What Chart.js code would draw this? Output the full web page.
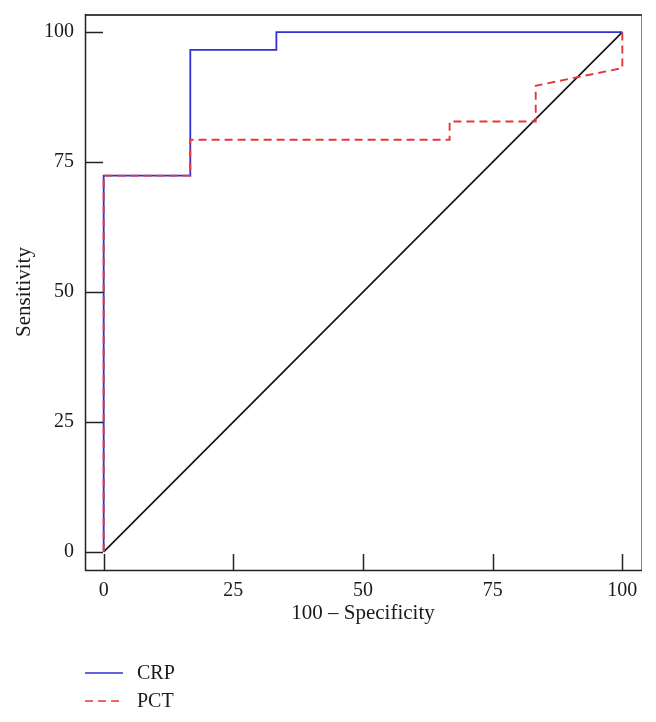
<!DOCTYPE html>
<html>
<head>
<meta charset="utf-8">
<script src="https://cdn.jsdelivr.net/npm/chart.js@4.4.1/dist/chart.umd.min.js"></script>
<style>
  html, body { margin: 0; padding: 0; background: #fff; }
  #roc { display: block; }
</style>
</head>
<body>
<canvas id="roc" width="656" height="722"></canvas>
<script>
// ── Data ───────────────────────────────────────────────
const TICKS = [0, 25, 50, 75, 100];

const CRP_X = [0, 0, 16.7, 16.7, 33.3, 33.3, 100];
const CRP_Y = [0, 72.4, 72.4, 96.6, 96.6, 100, 100];

const PCT_X = [0, 0, 16.7, 16.7, 66.7, 66.7, 83.3, 83.3, 100, 100];
const PCT_Y = [0, 72.4, 72.4, 79.3, 79.3, 82.8, 82.8, 89.7, 93.1, 100];

const REF_X = [0, 100];
const REF_Y = [0, 100];

const COLORS = {
  crp:  '#3030d4',
  pct:  '#e83636',
  ref:  '#111111',
  text: '#1a1a1a',
};

const FONT = { family: '"Liberation Serif", "Times New Roman", serif', size: 20 };
const TITLE_FONT = { ...FONT, size: 21 };

const toPoints = (xs, ys) => xs.map((x, i) => ({ x, y: ys[i] }));

// ── Box, inward ticks and bottom legend ───────────────
const frame = {
  id: 'frame',
  afterDatasetsDraw(chart) {
    const { ctx, chartArea: a, scales: { x, y } } = chart;
    ctx.save();
    ctx.lineCap = 'butt';
    // inward tick marks
    ctx.strokeStyle = '#222';
    ctx.lineWidth = 1.5;
    TICKS.forEach(v => {
      const py = Math.round(y.getPixelForValue(v)) + 0.5;
      ctx.beginPath(); ctx.moveTo(a.left, py); ctx.lineTo(a.left + 18, py); ctx.stroke();
      const px = Math.round(x.getPixelForValue(v)) + 0.5;
      ctx.beginPath(); ctx.moveTo(px, a.bottom); ctx.lineTo(px, a.bottom - 16); ctx.stroke();
    });
    // frame
    ctx.strokeStyle = '#888';
    ctx.lineWidth = 1;
    ctx.beginPath(); ctx.moveTo(a.right + 0.5, a.top); ctx.lineTo(a.right + 0.5, a.bottom); ctx.stroke();
    ctx.strokeStyle = '#444';
    ctx.lineWidth = 2;
    ctx.beginPath(); ctx.moveTo(a.left, a.top + 1); ctx.lineTo(a.right + 1, a.top + 1); ctx.stroke();
    ctx.strokeStyle = '#222';
    ctx.lineWidth = 1.5;
    ctx.beginPath(); ctx.moveTo(a.left + 0.5, a.top); ctx.lineTo(a.left + 0.5, a.bottom + 1); ctx.stroke();
    ctx.beginPath(); ctx.moveTo(a.left, a.bottom + 0.5); ctx.lineTo(a.right + 1, a.bottom + 0.5); ctx.stroke();

    // legend (CRP, PCT stacked under the plot)
    const items = chart.data.datasets.filter(d => d.inLegend)
      .sort((p, q) => p.legendIndex - q.legendIndex);
    ctx.font = `${FONT.size}px ${FONT.family}`;
    ctx.textBaseline = 'middle';
    ctx.fillStyle = COLORS.text;
    items.forEach((d, i) => {
      const ly = 673 + i * 28;
      ctx.strokeStyle = d.borderColor;
      ctx.lineWidth = 1.5;
      ctx.setLineDash(d.borderDash || []);
      ctx.beginPath(); ctx.moveTo(a.left, ly); ctx.lineTo(a.left + 38, ly); ctx.stroke();
      ctx.setLineDash([]);
      ctx.fillText(d.label, a.left + 52, ly + 1);
    });
    ctx.restore();
  },
};

const axisBase = (min, max) => ({
  type: 'linear',
  min, max,
  afterBuildTicks: s => { s.ticks = TICKS.map(v => ({ value: v })); },
  grid: { display: false, drawTicks: false },
  border: { display: false },
});

// datasets listed top-most first (PCT dashes sit over CRP)
new Chart(document.getElementById('roc'), {
  type: 'scatter',
  data: {
    datasets: [
      {
        label: 'PCT', inLegend: true, legendIndex: 1,
        data: toPoints(PCT_X, PCT_Y),
        borderColor: COLORS.pct, borderWidth: 1.9, borderDash: [8, 5],
        showLine: true, pointRadius: 0, tension: 0,
      },
      {
        label: 'CRP', inLegend: true, legendIndex: 0,
        data: toPoints(CRP_X, CRP_Y),
        borderColor: COLORS.crp, borderWidth: 1.8,
        showLine: true, pointRadius: 0, tension: 0,
      },
      {
        label: 'Reference',
        data: toPoints(REF_X, REF_Y),
        borderColor: COLORS.ref, borderWidth: 1.6,
        showLine: true, pointRadius: 0, tension: 0,
      },
    ],
  },
  options: {
    responsive: false,
    animation: false,
    layout: { padding: { top: 14, right: 15, bottom: 92, left: 0 } },
    plugins: { legend: { display: false }, tooltip: { enabled: false } },
    scales: {
      x: {
        ...axisBase(-3.6, 103.6),
        afterFit: s => { s.height = 60; s.paddingLeft = 0; s.paddingRight = 0; },
        ticks: { color: COLORS.text, font: FONT, padding: 9 },
        title: { display: true, text: '100 \u2013 Specificity', color: COLORS.text, font: TITLE_FONT, padding: { top: 0, bottom: 4 } },
      },
      y: {
        ...axisBase(-3.5, 103.5),
        afterFit: s => { s.width = 85; s.paddingTop = 0; s.paddingBottom = 0; },
        ticks: { color: COLORS.text, font: FONT, padding: 11 },
        title: { display: true, text: 'Sensitivity', color: COLORS.text, font: TITLE_FONT, padding: { top: 12, bottom: 0 } },
      },
    },
  },
  plugins: [frame],
});
</script>
</body>
</html>
